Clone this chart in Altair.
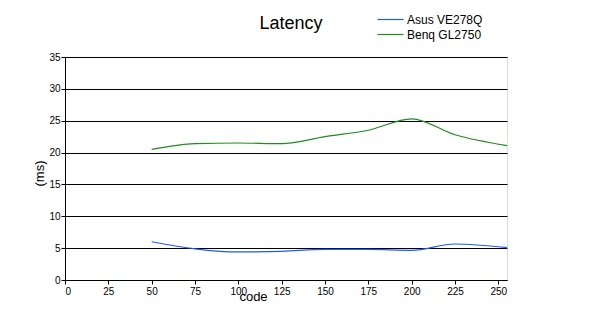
import altair as alt
import pandas as pd

codes = [50, 75, 100, 125, 150, 175, 200, 225, 255]
asus = [6.0, 4.9, 4.4, 4.5, 4.8, 4.8, 4.65, 5.65, 5.08]
benq = [20.5, 21.4, 21.5, 21.4, 22.5, 23.5, 25.3, 22.8, 21.1]
series_names = ["Asus VE278Q", "Benq GL2750"]

rows = []
for c, a, b in zip(codes, asus, benq):
    rows.append({"code": c, "ms": a, "series": series_names[0]})
    rows.append({"code": c, "ms": b, "series": series_names[1]})
df = pd.DataFrame(rows)

FONT = "Liberation Sans"

chart = alt.Chart(df).mark_line(interpolate="monotone", strokeWidth=1.2).encode(
    x=alt.X("code:Q", scale=alt.Scale(domain=[0, 255], nice=False, zero=False),
            axis=alt.Axis(values=list(range(0, 251, 25)), title="code", grid=False,
                          domainColor="black", tickColor="black", tickSize=4,
                          labelPadding=2, labelFontSize=10, labelColor="black",
                          labelFont=FONT, titleFont=FONT, titleFontSize=13,
                          titleFontWeight="normal", titleColor="black",
                          titleX=188, titleAlign="center",
                          titleY=20, titleBaseline="alphabetic")),
    y=alt.Y("ms:Q", scale=alt.Scale(domain=[0, 35], nice=False),
            axis=alt.Axis(values=list(range(0, 36, 5)), title="(ms)", grid=True,
                          gridColor="black", gridWidth=1, gridOpacity=1,
                          domainColor="black", tickColor="black", tickSize=4,
                          labelPadding=1, labelFontSize=10, labelColor="black",
                          labelFont=FONT, titleFont=FONT, titleFontSize=13,
                          titleFontWeight="normal", titleColor="black",
                          titleX=-26, titleY=116, titleAngle=270,
                          titleAlign="center", titleBaseline="middle")),
    color=alt.Color("series:N",
                    scale=alt.Scale(domain=series_names, range=["#1a5cff", "#1e8c1e"]),
                    legend=alt.Legend(title=None, orient="none", legendX=317, legendY=-46,
                                      symbolType="M-1.68,0H1.68", symbolSize=240,
                                      symbolStrokeWidth=1.2, labelFont=FONT,
                                      labelFontSize=12, labelColor="black",
                                      rowPadding=0, labelOffset=8)),
).properties(
    width=442,
    height=223,
    title=alt.TitleParams("Latency", font=FONT, fontSize=18, fontWeight="normal",
                          color="black", anchor="middle", dx=5, offset=-22),
    autosize=alt.AutoSizeParams(type="none"),
    padding={"left": 57, "top": 49, "right": 85, "bottom": 31},
).configure_view(stroke=None).configure(background="white")

chart.save("out.html", embed_options={"renderer": "svg", "actions": False})
